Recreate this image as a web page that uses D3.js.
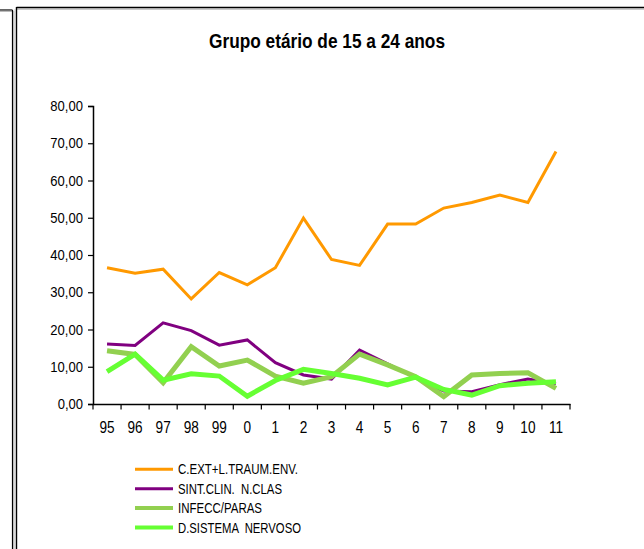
<!DOCTYPE html>
<html>
<head>
<meta charset="utf-8">
<script src="https://d3js.org/d3.v7.min.js"></script>
<style>
html,body{margin:0;padding:0;background:#fff;}
svg{display:block;}
text{font-family:"Liberation Sans",Arial,sans-serif;fill:#000;}
</style>
</head>
<body>
<svg id="chart" width="644" height="549"></svg>
<script>
const categories = ["95","96","97","98","99","0","1","2","3","4","5","6","7","8","9","10","11"];
const cExt   = [36.6,35.1,36.2,28.2,35.3,32.0,36.6,49.9,38.8,37.2,48.3,48.3,52.6,54.1,56.1,54.1,67.8];
const sint   = [16.1,15.7,21.8,19.7,15.8,17.2,11.1,7.8,6.7,14.5,10.8,7.0,3.5,3.3,5.2,6.7,5.5];
const infecc = [14.3,13.3,5.7,15.4,10.2,11.8,7.5,5.6,7.3,13.4,10.5,7.3,2.0,7.8,8.2,8.4,4.2];
const dsist  = [8.7,13.4,6.4,8.1,7.5,2.1,6.3,9.3,8.2,6.9,5.1,7.2,3.9,2.4,4.9,5.6,6.0];
const yTicks = [0,10,20,30,40,50,60,70,80];
const seriesNames = ["C.EXT+L.TRAUM.ENV.","SINT.CLIN.  N.CLAS","INFECC/PARAS","D.SISTEMA  NERVOSO"];
const legendTextWidths = [120,104,84,123];
const title = "Grupo etário de 15 a 24 anos";

const series = [
  {name: seriesNames[0], values: cExt,   color: "#FF9900", width: 3,   legendWidth: 3},
  {name: seriesNames[1], values: sint,   color: "#800080", width: 3,   legendWidth: 3},
  {name: seriesNames[2], values: infecc, color: "#92D050", width: 5,   legendWidth: 4},
  {name: seriesNames[3], values: dsist,  color: "#66FF33", width: 5,   legendWidth: 4}
];

const svg = d3.select("#chart");

// frames
svg.append("line").attr("x1",0).attr("x2",12.5).attr("y1",10).attr("y2",10).attr("stroke","#000").attr("stroke-width",1.2);
svg.append("line").attr("x1",0).attr("x2",12.5).attr("y1",11.3).attr("y2",11.3).attr("stroke","#aaa").attr("stroke-width",1);
svg.append("line").attr("x1",12.5).attr("x2",12.5).attr("y1",10).attr("y2",549).attr("stroke","#000").attr("stroke-width",1.2);
svg.append("line").attr("x1",13.8).attr("x2",13.8).attr("y1",11).attr("y2",549).attr("stroke","#aaa").attr("stroke-width",1);
svg.append("line").attr("x1",16.5).attr("x2",644).attr("y1",7.5).attr("y2",7.5).attr("stroke","#000").attr("stroke-width",1.4);
svg.append("line").attr("x1",17).attr("x2",644).attr("y1",9).attr("y2",9).attr("stroke","#999").attr("stroke-width",1);
svg.append("line").attr("x1",16.5).attr("x2",16.5).attr("y1",7).attr("y2",549).attr("stroke","#000").attr("stroke-width",1.4);
svg.append("line").attr("x1",15.2).attr("x2",15.2).attr("y1",9).attr("y2",549).attr("stroke","#bbb").attr("stroke-width",1);

// title
svg.append("text").attr("x",209).attr("y",48)
  .attr("textLength",236).attr("lengthAdjust","spacingAndGlyphs")
  .style("font-size","21px").style("font-weight","bold").text(title);

const x = d3.scaleBand().domain(categories).range([93,570]);
const y = d3.scaleLinear().domain([0,80]).range([404,106]);
const fmt = v => d3.format(".2f")(v).replace(".",",");

// y axis
const ySx = 0.9;
const yAxis = svg.append("g").attr("transform","translate(93,0)")
  .call(d3.axisLeft(y).tickValues(yTicks).tickFormat(fmt).tickSize(5).tickPadding(5));
yAxis.select(".domain").attr("stroke","#000").attr("stroke-width",1.5);
yAxis.selectAll(".tick line").attr("stroke","#000").attr("stroke-width",1.2);
yAxis.selectAll("text").style("font-size","14.5px").style("font-family",null)
  .attr("x",-10/ySx).attr("transform",`scale(${ySx},1)`);

// x axis
const xSx = 0.85;
const xAxis = svg.append("g").attr("transform","translate(0,404)")
  .call(d3.axisBottom(x).tickSize(0).tickPadding(17.5));
xAxis.select(".domain").attr("stroke","#000").attr("stroke-width",1.5);
xAxis.selectAll("text").style("font-size","16px").style("font-family",null)
  .attr("transform",`scale(${xSx},1)`);
const bounds = categories.map(c => x(c)).concat([x.range()[1]]);
svg.append("g").selectAll("line").data(bounds).join("line")
  .attr("x1",d=>d).attr("x2",d=>d).attr("y1",404).attr("y2",409.5)
  .attr("stroke","#000").attr("stroke-width",1.2);

// lines
const line = d3.line().x((d,i)=>x(categories[i]) + x.bandwidth()/2).y(d=>y(d));
series.forEach(s => {
  svg.append("path").datum(s.values).attr("d",line)
    .attr("fill","none").attr("stroke",s.color).attr("stroke-width",s.width)
    .attr("stroke-linejoin","miter").attr("stroke-linecap","butt");
});

// legend
const leg = svg.append("g");
series.forEach((s,i) => {
  const ly = 469.3 + i*19.4;
  leg.append("line").attr("x1",135).attr("x2",173).attr("y1",ly).attr("y2",ly)
    .attr("stroke",s.color).attr("stroke-width",s.legendWidth);
  leg.append("text").attr("x",178).attr("y",ly).attr("dy","0.36em")
    .attr("textLength",legendTextWidths[i]).attr("lengthAdjust","spacingAndGlyphs")
    .style("font-size","14px").style("white-space","pre").text(s.name);
});
</script>
</body>
</html>
